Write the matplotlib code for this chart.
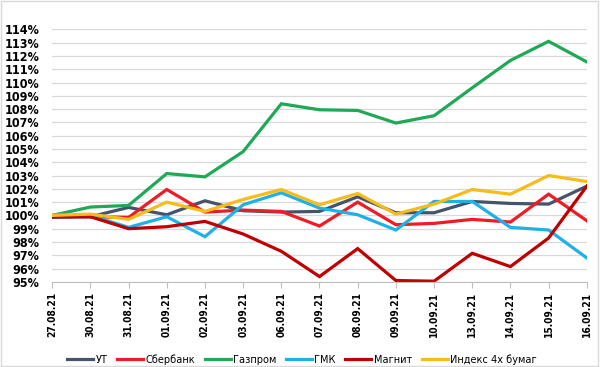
import matplotlib.pyplot as plt
from matplotlib.ticker import FuncFormatter, MultipleLocator
from matplotlib.patches import Rectangle

dates = ['27.08.21', '30.08.21', '31.08.21', '01.09.21', '02.09.21', '03.09.21',
         '06.09.21', '07.09.21', '08.09.21', '09.09.21', '10.09.21', '13.09.21',
         '14.09.21', '15.09.21', '16.09.21']

ut = [99.85, 99.9, 100.6, 100.05, 101.1, 100.35, 100.25, 100.3, 101.4, 100.2,
      100.2, 101.05, 100.9, 100.85, 102.2]
sber = [100.0, 99.9, 99.85, 101.95, 100.25, 100.4, 100.3, 99.2, 101.0, 99.3,
        99.4, 99.7, 99.5, 101.6, 99.6]
gazprom = [100.0, 100.63, 100.75, 103.15, 102.9, 104.8, 108.4, 107.95, 107.9,
           106.95, 107.5, 109.6, 111.66, 113.1, 111.55]
gmk = [100.0, 100.0, 99.1, 99.9, 98.4, 100.8, 101.7, 100.55, 100.05, 98.9,
       101.05, 101.05, 99.1, 98.9, 96.8]
magnit = [99.9, 99.9, 99.0, 99.15, 99.55, 98.6, 97.3, 95.4, 97.5, 95.1,
          95.05, 97.15, 96.15, 98.3, 102.2]
index4 = [100.0, 100.1, 99.7, 101.0, 100.3, 101.2, 101.95, 100.8, 101.65, 100.1,
          100.85, 101.95, 101.6, 103.0, 102.55]

series = [
    ('УТ', ut, '#44546a'),
    ('Сбербанк', sber, '#ee1c25'),
    ('Газпром', gazprom, '#1fa855'),
    ('ГМК', gmk, '#1fb0e6'),
    ('Магнит', magnit, '#c00000'),
    ('Индекс 4х бумаг', index4, '#f7bb1a'),
]

fig = plt.figure(figsize=(6, 3.67), dpi=100)
ax = fig.add_axes([0.087, 0.232, 0.891, 0.688])

x = range(len(dates))
for name, vals, color in series:
    ax.plot(x, vals, color=color, lw=2.3, label=name, solid_joinstyle='miter')

ax.set_xlim(0, len(dates) - 1)
ax.set_ylim(95, 114)
ax.yaxis.set_major_locator(MultipleLocator(1))
ax.yaxis.set_major_formatter(FuncFormatter(lambda v, p: f'{v:.0f}%'))
ax.set_xticks(list(x))
ax.set_xticklabels(dates, rotation=90)

for lab in ax.get_yticklabels():
    lab.set_family('DejaVu Sans')
    lab.set_stretch('condensed')
    lab.set_weight('bold')
    lab.set_fontsize(9)
for lab in ax.get_xticklabels():
    lab.set_family('DejaVu Sans')
    lab.set_stretch('condensed')
    lab.set_weight('bold')
    lab.set_fontsize(7.3)

ax.grid(axis='y', color='#d9d9d9', lw=0.9)
ax.set_axisbelow(True)
for s in ['top', 'right', 'left']:
    ax.spines[s].set_visible(False)
ax.spines['bottom'].set_color('#bfbfbf')
ax.tick_params(axis='y', length=0, pad=9)
ax.tick_params(axis='x', length=4, color='#bfbfbf', pad=3)

leg = ax.legend(loc='center', bbox_to_anchor=(0.503, 0.02), bbox_transform=fig.transFigure,
                ncol=6, frameon=False, handlelength=2.4, handletextpad=0.2,
                columnspacing=0.9, borderpad=0,
                prop=dict(family='DejaVu Sans', stretch='condensed', size=7.8))

fig.patches.append(Rectangle((0.002, 0.003), 0.995, 0.994, transform=fig.transFigure,
                             fill=False, edgecolor='#d9d9d9', lw=1))

fig.savefig('out.png', dpi=100, facecolor='white')
